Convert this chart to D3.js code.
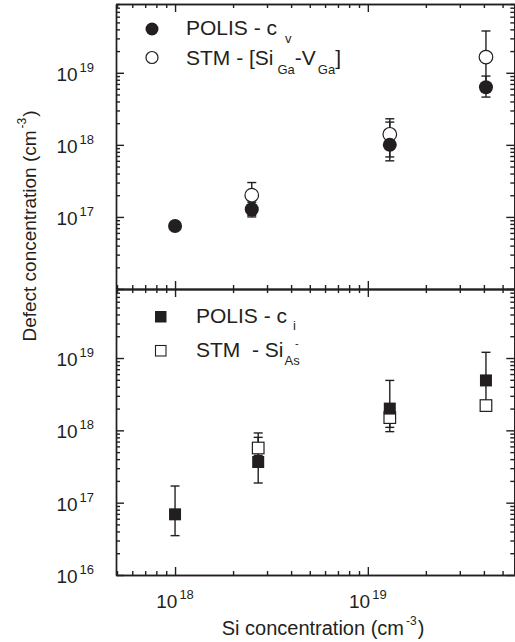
<!DOCTYPE html>
<html>
<head>
<meta charset="UTF-8">
<title>Defect concentration vs Si concentration</title>
<script src="https://d3js.org/d3.v7.min.js"></script>
<style>
  body { margin:0; background:#fff; }
  svg { display:block; }
  text { font-family: "Liberation Sans", Arial, sans-serif; fill:#231f20; white-space:pre; }
  .frame path, .frame line { stroke:#231f20; stroke-width:1.4px; }
</style>
</head>
<body>
<svg width="515" height="642"></svg>
<script>
// ---- data ----
// top panel: vacancies
const siTop      = [1.0e18, 2.5e18, 1.3e19, 4.1e19];
const polisCv    = [7.5e16, 1.28e17, 1.0e18, 6.3e18];
const polisCvLo  = [7.2e16, 1.0e17, 6.0e17, 4.6e18];
const polisCvHi  = [7.8e16, 1.6e17, 2.07e18, 9.0e18];
const siTopStm   = [2.5e18, 1.3e19, 4.1e19];
const stmSiV     = [2.0e17, 1.4e18, 1.65e19];
const stmSiVLo   = [1.05e17, 6.8e17, 6.0e18];
const stmSiVHi   = [3.0e17, 2.3e18, 3.8e19];
// bottom panel: interstitials
const siBot      = [1.0e18, 2.7e18, 1.3e19, 4.1e19];
const polisCi    = [6.9e16, 3.65e17, 2.0e18, 4.9e18];
const polisCiLo  = [3.5e16, 1.87e17, 9.6e17, 2.0e18];
const polisCiHi  = [1.7e17, 9.2e17, 4.9e18, 1.2e19];
const siBotStm   = [2.7e18, 1.3e19, 4.1e19];
const stmSiAs    = [5.7e17, 1.5e18, 2.2e18];
const stmSiAsLo  = [4.5e17, 1.1e18, 2.0e18];
const stmSiAsHi  = [8.0e17, 2.0e18, 2.5e18];

const xMajor = [1e18, 1e19];
const yMajorTop = [1e17, 1e18, 1e19];
const yMajorBot = [1e16, 1e17, 1e18, 1e19];

const svg = d3.select('svg');
const ink = '#231f20';

const x = d3.scaleLog().domain([4.94e17, 5.8e19]).range([116, 515]);
const yTop = d3.scaleLog().domain([1e16, 9e19]).range([289, 4]);
const yBot = d3.scaleLog().domain([1e16, 9e19]).range([575, 289]);

const xMinor = x.ticks().filter(v => !xMajor.includes(v));
const yMinor = yTop.ticks().filter(v => Math.abs(Math.log10(v) % 1) > 1e-6);

function frame(y) {
  const g = svg.append('g').attr('class', 'frame');
  const [y0, y1] = y.range();
  const [x0, x1] = x.range();
  const put = (axis, tx, ty, vals, size) => {
    const a = g.append('g').attr('transform', `translate(${tx},${ty})`)
      .call(axis.tickValues(vals).tickSizeInner(size).tickSizeOuter(0).tickFormat(''));
    a.selectAll('text').remove();
    return a;
  };
  // bottom / top edges, ticks pointing inwards
  put(d3.axisBottom(x), 0, y0, xMajor, -8);
  put(d3.axisBottom(x), 0, y0, xMinor, -4);
  put(d3.axisTop(x), 0, y1, xMajor, -8);
  put(d3.axisTop(x), 0, y1, xMinor, -4);
  // left / right edges
  const majors = y.ticks().filter(v => Math.abs(Math.log10(v) % 1) < 1e-6);
  put(d3.axisLeft(y), x0, 0, majors, -8);
  put(d3.axisLeft(y), x0, 0, yMinor, -4);
  put(d3.axisRight(y), x1 - 0.7, 0, majors, -8);
  put(d3.axisRight(y), x1 - 0.7, 0, yMinor, -4);
}
frame(yTop);
frame(yBot);

// power-of-ten label helper
function pow10(sel, v) {
  const e = Math.round(Math.log10(v));
  sel.append('tspan').text('10');
  sel.append('tspan').attr('font-size', 13).attr('dx', 2).attr('dy', -9).text(e);
}

function yLabels(y, vals) {
  vals.forEach(v => {
    const t = svg.append('text').attr('x', 94).attr('y', y(v) + 8)
      .attr('text-anchor', 'end').attr('font-size', 19);
    pow10(t, v);
  });
}
yLabels(yTop, yMajorTop);
yLabels(yBot, yMajorBot);

xMajor.forEach(v => {
  const t = svg.append('text').attr('x', x(v)).attr('y', 608)
    .attr('text-anchor', 'middle').attr('font-size', 19);
  pow10(t, v);
});

// axis titles
const xt = svg.append('text').attr('x', 323).attr('y', 635)
  .attr('text-anchor', 'middle').attr('font-size', 20);
xt.append('tspan').text('Si concentration (cm');
xt.append('tspan').attr('font-size', 12).attr('dx', 2).attr('dy', -10).text('-3');
xt.append('tspan').attr('dx', 1).attr('dy', 10).text(')');

const yt = svg.append('text').attr('transform', 'translate(36,226) rotate(-90)')
  .attr('text-anchor', 'middle').attr('font-size', 19);
yt.append('tspan').text('Defect concentration (cm');
yt.append('tspan').attr('font-size', 12).attr('dx', 2).attr('dy', -10).text('-3');
yt.append('tspan').attr('dx', 1).attr('dy', 10).text(')');

// error bars
function errBars(y, xs, lo, hi) {
  const g = svg.append('g').attr('stroke', ink).attr('stroke-width', 1.4);
  xs.forEach((xv, i) => {
    const cx = x(xv);
    g.append('line').attr('x1', cx).attr('x2', cx).attr('y1', y(lo[i])).attr('y2', y(hi[i]));
    [lo[i], hi[i]].forEach(v => g.append('line')
      .attr('x1', cx - 4.5).attr('x2', cx + 4.5).attr('y1', y(v)).attr('y2', y(v)));
  });
}

// ---- top panel ----
errBars(yTop, siTopStm, stmSiVLo, stmSiVHi);
errBars(yTop, siTop, polisCvLo, polisCvHi);
svg.append('g').selectAll('circle').data(siTopStm).join('circle')
  .attr('cx', d => x(d)).attr('cy', (d, i) => yTop(stmSiV[i])).attr('r', 6.8)
  .attr('fill', '#fff').attr('stroke', ink).attr('stroke-width', 1.2);
svg.append('g').selectAll('circle').data(siTop).join('circle')
  .attr('cx', d => x(d)).attr('cy', (d, i) => yTop(polisCv[i])).attr('r', 7)
  .attr('fill', ink);

// ---- bottom panel ----
errBars(yBot, siBotStm, stmSiAsLo, stmSiAsHi);
errBars(yBot, siBot, polisCiLo, polisCiHi);
svg.append('g').selectAll('rect').data(siBotStm).join('rect')
  .attr('x', d => x(d) - 5.8).attr('y', (d, i) => yBot(stmSiAs[i]) - 5.8)
  .attr('width', 11.6).attr('height', 11.6)
  .attr('fill', '#fff').attr('stroke', ink).attr('stroke-width', 1.2);
svg.append('g').selectAll('rect').data(siBot).join('rect')
  .attr('x', d => x(d) - 6).attr('y', (d, i) => yBot(polisCi[i]) - 6)
  .attr('width', 12).attr('height', 12).attr('fill', ink);

// ---- legends ----
svg.append('circle').attr('cx', 152).attr('cy', 29).attr('r', 6.5).attr('fill', ink);
svg.append('circle').attr('cx', 152).attr('cy', 57.5).attr('r', 6).attr('fill', '#fff')
  .attr('stroke', ink).attr('stroke-width', 1.2);
const l1 = svg.append('text').attr('x', 186).attr('y', 35).attr('font-size', 21);
l1.append('tspan').text('POLIS - c');
l1.append('tspan').attr('font-size', 13).attr('dx', 8).attr('dy', 8).text('v');
const l2 = svg.append('text').attr('x', 186).attr('y', 65).attr('font-size', 21);
l2.append('tspan').text('STM - [Si');
l2.append('tspan').attr('font-size', 13).attr('dx', 4).attr('dy', 9).text('Ga');
l2.append('tspan').attr('dy', -9).text('-V');
l2.append('tspan').attr('font-size', 13).attr('dx', 2).attr('dy', 9).text('Ga');
l2.append('tspan').attr('dy', -9).text(']');

svg.append('rect').attr('x', 155).attr('y', 311).attr('width', 11.5).attr('height', 11.5).attr('fill', ink);
svg.append('rect').attr('x', 155.5).attr('y', 345.5).attr('width', 10.5).attr('height', 10.5)
  .attr('fill', '#fff').attr('stroke', ink).attr('stroke-width', 1.1);
const l3 = svg.append('text').attr('x', 196).attr('y', 323).attr('font-size', 21);
l3.append('tspan').text('POLIS - c');
l3.append('tspan').attr('font-size', 13).attr('dx', 6).attr('dy', 7).text('i');
const l4 = svg.append('text').attr('x', 196).attr('y', 357).attr('font-size', 21);
l4.append('tspan').text('STM  - Si');
l4.append('tspan').attr('font-size', 13).attr('dx', 1).attr('dy', 8).text('As');
// charge sign above the subscript
svg.append('text').attr('x', 295).attr('y', 347).attr('font-size', 11).text('-');
</script>
</body>
</html>
